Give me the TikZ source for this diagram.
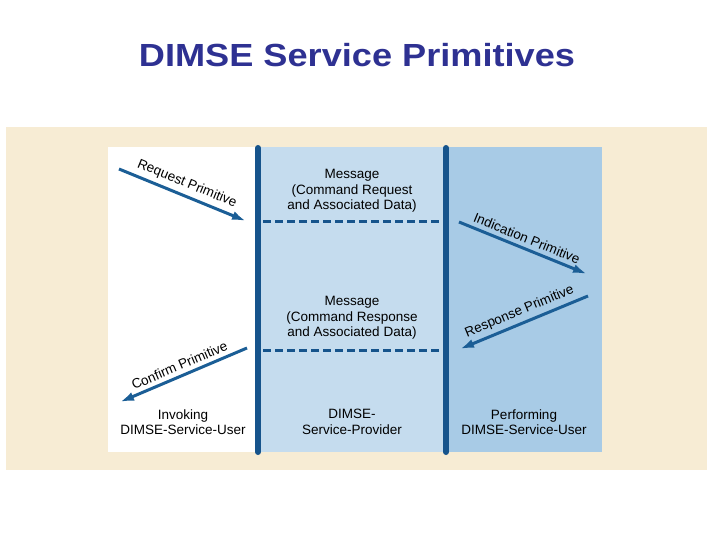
\documentclass[tikz,border=0pt]{standalone}
\usepackage{fontspec}
\setmainfont{Liberation Sans}
\newfontfamily\titlefont[FakeStretch=1.13]{Liberation Sans}
\usetikzlibrary{arrows.meta, positioning}
\definecolor{beige}{RGB}{247,236,212}
\definecolor{midblue}{RGB}{197,220,238}
\definecolor{sideblue}{RGB}{168,203,230}
\definecolor{barblue}{RGB}{22,84,140}
\definecolor{arrowblue}{RGB}{27,94,150}
\definecolor{titleblue}{RGB}{46,49,146}

\begin{document}
\begin{tikzpicture}[x=1pt, y=-1pt,
        lifeline/.style={draw=barblue, line width=6pt, line cap=round},
        divider/.style={draw=barblue, line width=3pt, dash pattern=on 8pt off 4pt},
        primitive/.style={draw=arrowblue, line width=3pt, -{Latex[length=14pt, width=9pt]}},
        prim_label/.style={font=\fontsize{13.5}{15}\selectfont, above, sloped, midway, inner sep=4pt},
        box_text/.style={font=\fontsize{13.5}{15.5}\selectfont, align=center, inner sep=0pt}
    ]
        \useasboundingbox (0,0) rectangle (720,540);

        % Hintergrund und Felder
        \fill[beige] (6,127) rectangle (707,470);
        \fill[white] (108,147) rectangle (258,452);
        \fill[midblue] (258,147) rectangle (446,452);
        \fill[sideblue] (446,147) rectangle (602,452);

        % Titel
        \node[text=titleblue, font=\titlefont\bfseries\fontsize{32}{36}\selectfont] (title) at (357,55) {DIMSE Service Primitives};

        % Lebenslinien
        \coordinate (invT) at (258,148);
        \coordinate (invB) at (258,452);
        \coordinate (perT) at (446,148);
        \coordinate (perB) at (446,452);
        \draw[lifeline] (invT) -- (invB);
        \draw[lifeline] (perT) -- (perB);

        % Nachrichten
        \node[box_text] (msgReq) at (352,191) {Message\\(Command Request\\and Associated Data)};
        \node[box_text] (msgRsp) at (352,318) {Message\\(Command Response\\and Associated Data)};
        \coordinate (d1L) at (263,222);
        \coordinate (d1R) at (442,222);
        \coordinate (d2L) at (263,350);
        \coordinate (d2R) at (442,350);
        \draw[divider] (d1L) -- (d1R);
        \draw[divider] (d2L) -- (d2R);

        % Primitive
        \coordinate (reqA) at (119,169);
        \coordinate (reqB) at (246,221);
        \coordinate (indA) at (459,222);
        \coordinate (indB) at (587,274);
        \coordinate (rspA) at (588,296);
        \coordinate (rspB) at (460,349);
        \coordinate (cnfA) at (247,348);
        \coordinate (cnfB) at (120,402);
        \draw[primitive] (reqA) -- node[prim_label] {Request Primitive} (reqB);
        \draw[primitive] (indA) -- node[prim_label] {Indication Primitive} (indB);
        \draw[primitive] (rspA) -- node[prim_label] {Response Primitive} (rspB);
        \draw[primitive] (cnfA) -- node[prim_label] {Confirm Primitive} (cnfB);

        % Beschriftungen unten
        \node[box_text] (invoking) at (183,422) {Invoking\\DIMSE-Service-User};
        \node[box_text] (provider) at (352,422) {DIMSE-\\Service-Provider};
        \node[box_text] (performing) at (524,422) {Performing\\DIMSE-Service-User};
    \end{tikzpicture}
\end{document}
